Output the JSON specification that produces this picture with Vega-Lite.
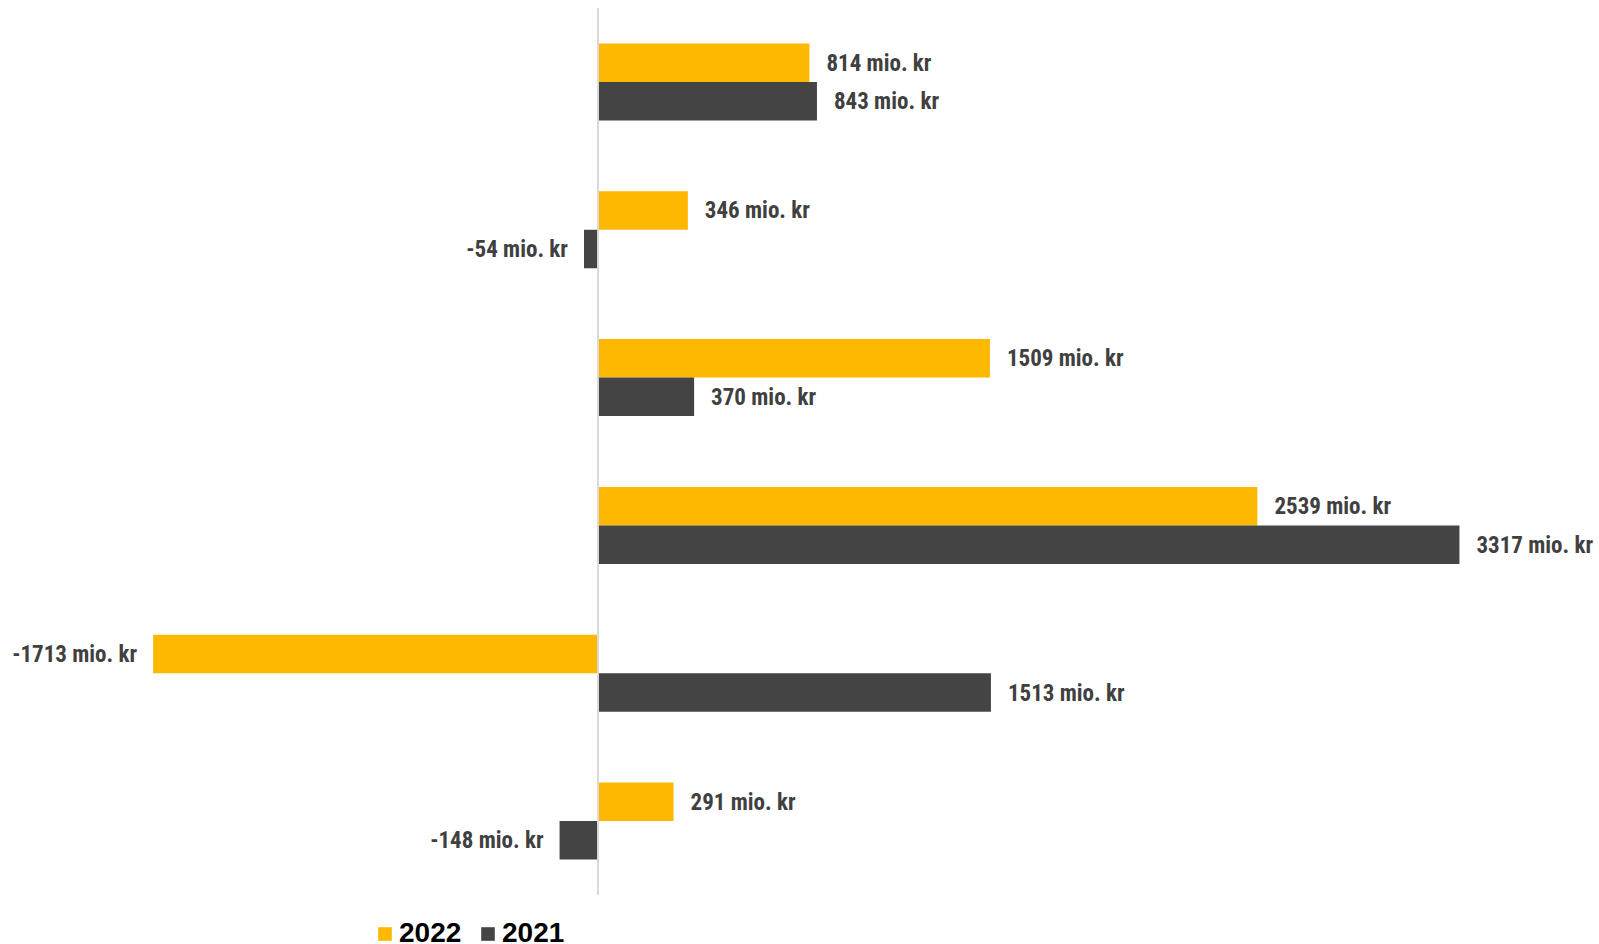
{
  "$schema": "https://vega.github.io/schema/vega-lite/v6.json",
  "width": 1599,
  "height": 887,
  "autosize": {"type": "none"},
  "padding": {"left": 0, "right": 0, "top": 8, "bottom": 49},
  "background": "white",
  "config": {"view": {"stroke": null}},
  "data": {"values": [
    {"cat": "c1", "year": "2022", "v": 814, "label": "814 mio. kr"},
    {"cat": "c1", "year": "2021", "v": 843, "label": "843 mio. kr"},
    {"cat": "c2", "year": "2022", "v": 346, "label": "346 mio. kr"},
    {"cat": "c2", "year": "2021", "v": -54, "label": "-54 mio. kr"},
    {"cat": "c3", "year": "2022", "v": 1509, "label": "1509 mio. kr"},
    {"cat": "c3", "year": "2021", "v": 370, "label": "370 mio. kr"},
    {"cat": "c4", "year": "2022", "v": 2539, "label": "2539 mio. kr"},
    {"cat": "c4", "year": "2021", "v": 3317, "label": "3317 mio. kr"},
    {"cat": "c5", "year": "2022", "v": -1713, "label": "-1713 mio. kr"},
    {"cat": "c5", "year": "2021", "v": 1513, "label": "1513 mio. kr"},
    {"cat": "c6", "year": "2022", "v": 291, "label": "291 mio. kr"},
    {"cat": "c6", "year": "2021", "v": -148, "label": "-148 mio. kr"}
  ]},
  "layer": [
    {
      "mark": {"type": "bar"},
      "encoding": {
        "y": {"field": "cat", "type": "nominal", "axis": null, "sort": ["c1","c2","c3","c4","c5","c6"],
              "scale": {"paddingInner": 0.479, "paddingOuter": 0.2395}},
        "yOffset": {"field": "year", "type": "nominal", "sort": ["2022", "2021"]},
        "x": {"field": "v", "type": "quantitative", "axis": null,
              "scale": {"domain": [-2302.7, 3854.4], "nice": false, "zero": false}},
        "color": {"field": "year", "type": "nominal",
                  "scale": {"domain": ["2022", "2021"], "range": ["#FFB800", "#444444"]},
                  "legend": {"title": null, "orient": "none", "direction": "horizontal",
                             "legendX": 371, "legendY": 912, "padding": 0,
                             "symbolType": "square", "symbolSize": 185, "symbolStrokeWidth": 0,
                             "labelFont": "Liberation Sans", "labelFontWeight": "bold",
                             "labelFontSize": 28, "labelColor": "#000000", "labelOffset": 0,
                             "columnPadding": 12}}
      }
    },
    {
      "transform": [{"filter": "datum.v >= 0"}],
      "mark": {"type": "text", "align": "left", "baseline": "middle", "dx": 17, "dy": 1,
               "font": "Roboto Condensed, Liberation Sans Narrow, DejaVu Sans Condensed", "fontWeight": "bold",
               "fontSize": 23, "color": "#404040"},
      "encoding": {
        "y": {"field": "cat", "type": "nominal", "sort": ["c1","c2","c3","c4","c5","c6"]},
        "yOffset": {"field": "year", "type": "nominal", "sort": ["2022", "2021"]},
        "x": {"field": "v", "type": "quantitative"},
        "text": {"field": "label"}
      }
    },
    {
      "transform": [{"filter": "datum.v < 0"}],
      "mark": {"type": "text", "align": "right", "baseline": "middle", "dx": -16, "dy": 1,
               "font": "Roboto Condensed, Liberation Sans Narrow, DejaVu Sans Condensed", "fontWeight": "bold",
               "fontSize": 23, "color": "#404040"},
      "encoding": {
        "y": {"field": "cat", "type": "nominal", "sort": ["c1","c2","c3","c4","c5","c6"]},
        "yOffset": {"field": "year", "type": "nominal", "sort": ["2022", "2021"]},
        "x": {"field": "v", "type": "quantitative"},
        "text": {"field": "label"}
      }
    },
    {
      "mark": {"type": "rule", "color": "#D9D9D9", "strokeWidth": 1.5},
      "encoding": {"x": {"datum": 0, "type": "quantitative"}, "y": {"value": 0}, "y2": {"value": 887}}
    }
  ]
}
